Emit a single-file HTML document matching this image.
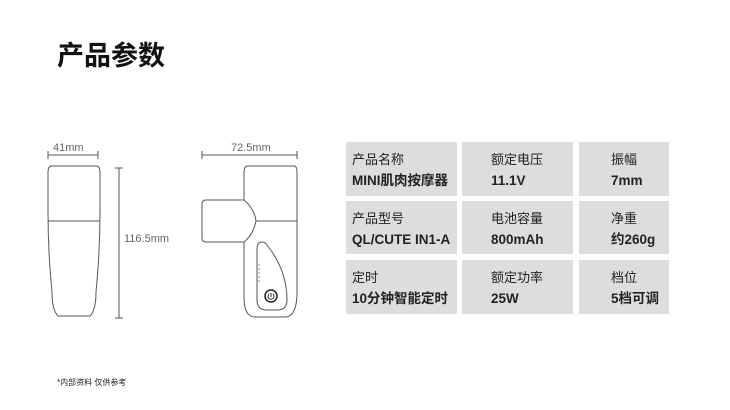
<!DOCTYPE html>
<html><head><meta charset="utf-8"><style>
body{margin:0;width:730px;height:410px;background:#fff;position:relative;overflow:hidden;font-family:"Liberation Sans","Noto Sans CJK SC",sans-serif}
.t{position:absolute;left:57px;top:36px;font-size:27px;font-weight:bold;color:#111;line-height:40px}
.c{position:absolute;background:#ddd;color:#222}
.c .l{position:absolute;top:9px;font-size:13px;line-height:18px;height:18px;white-space:nowrap}
.c .v{position:absolute;top:30px;font-size:13.5px;font-weight:bold;line-height:18px;height:18px;white-space:nowrap}
.f{position:absolute;left:57px;top:378px;font-size:8px;color:#222;line-height:10px}
</style></head><body>
<div class="t">产品参数</div>
<svg width="730" height="410" style="position:absolute;left:0;top:0" fill="none" stroke="#555" stroke-width="1">
<g font-family="Liberation Sans" font-size="11" fill="#666" stroke="none">
<text x="53" y="151">41mm</text><text x="231" y="151">72.5mm</text><text x="124" y="242">116.5mm</text></g>
<path d="M48 151v8M98 151v8M48 155h50"/>
<path d="M202 151v8M297 151v8M202 155h95"/>
<path d="M115 168h8M115 318h8M119 168v150"/>
<path d="M52 166h44q4 0 4 6v40q0 40-4 80q0 18-6 24h-32q-6-6-6-24q-4-40-4-80v-40q0-6 4-6z"/>
<path d="M48 221h52"/>
<path d="M248 166h46q3 0 3 6v120q0 25-12 25h-30q-11 0-11-20v-55"/>
<path d="M244 200v-28q0-6 4-6"/>
<path d="M244 200q10 8 12 21q-3 14-12 21"/>
<path d="M256 221h41"/>
<path d="M244 200h-38q-4 0-4 4v34q0 4 4 4h38"/>
<path d="M262 242q-5 0-5 8v50q0 10 10 10h10q10 0 10-10q0-30-20-55q-2-3-5-3z"/>
<circle cx="271" cy="296" r="6" stroke-width="1.5" stroke="#222"/>
<path d="M271 293v4M269 294a3 3 0 1 0 4 0" stroke="#222"/>
<g fill="#999" stroke="none"><circle cx="259" cy="265" r="0.9"/><circle cx="259" cy="269" r="0.9"/><circle cx="259" cy="273" r="0.9"/><circle cx="259" cy="277" r="0.9"/><circle cx="259" cy="281" r="0.9"/></g>
</svg>
<div class="c" style="left:346px;top:142px;width:111px;height:54px"><span class="l" style="left:6px">产品名称</span><span class="v" style="left:6px">MINI肌肉按摩器</span></div>
<div class="c" style="left:462px;top:142px;width:111px;height:54px"><span class="l" style="left:29px">额定电压</span><span class="v" style="left:29px">11.1V</span></div>
<div class="c" style="left:579px;top:142px;width:90px;height:54px"><span class="l" style="left:32px">振幅</span><span class="v" style="left:32px">7mm</span></div>
<div class="c" style="left:346px;top:201px;width:111px;height:53px"><span class="l" style="left:6px">产品型号</span><span class="v" style="left:6px">QL/CUTE IN1-A</span></div>
<div class="c" style="left:462px;top:201px;width:111px;height:53px"><span class="l" style="left:29px">电池容量</span><span class="v" style="left:29px">800mAh</span></div>
<div class="c" style="left:579px;top:201px;width:90px;height:53px"><span class="l" style="left:32px">净重</span><span class="v" style="left:32px">约260g</span></div>
<div class="c" style="left:346px;top:260px;width:111px;height:54px"><span class="l" style="left:6px">定时</span><span class="v" style="left:6px">10分钟智能定时</span></div>
<div class="c" style="left:462px;top:260px;width:111px;height:54px"><span class="l" style="left:29px">额定功率</span><span class="v" style="left:29px">25W</span></div>
<div class="c" style="left:579px;top:260px;width:90px;height:54px"><span class="l" style="left:32px">档位</span><span class="v" style="left:32px">5档可调</span></div>
<div class="f">*内部资料 仅供参考</div>
</body></html>
